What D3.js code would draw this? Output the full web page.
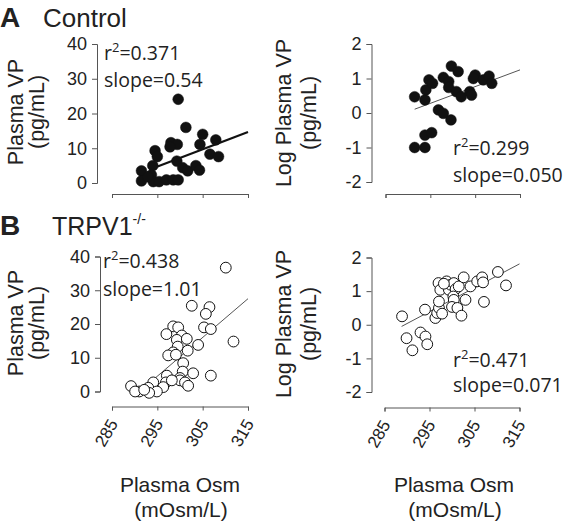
<!DOCTYPE html>
<html><head><meta charset="utf-8">
<script src="https://cdn.jsdelivr.net/npm/d3@7"></script>
<style>body{margin:0;background:#fff}svg{display:block}</style>
</head><body>
<svg id="c" width="567" height="523"></svg>
<script>
// ---------- data ----------
const xTicks = [285, 295, 305, 315];
const yTicksLin = [0, 10, 20, 30, 40];
const yTicksLog = [-2, -1, 0, 1, 2];

const ctrlLinX = [299.6,301.3,305.0,307.9,298.0,299.4,304.4,297.8,294.5,295.0,306.6,308.5,299.3,294.0,291.5,300.6,301.7,303.5,304.3,291.5,293.7,294.1,295.4,297.0,298.5,299.6,292.9];
const ctrlLinY = [24.1,16.0,14.0,12.4,11.6,11.1,11.1,10.4,9.3,7.6,8.3,7.6,6.3,5.0,3.5,4.4,3.5,5.0,3.7,0.6,2.3,0.4,0.4,0.9,0.9,0.9,1.8];
const ctrlLinFit = [[294.9, 4.7], [315, 14.7]];

const ctrlLogX = [291.5,293.8,294.0,294.7,295.5,291.5,293.8,293.8,295.3,296.8,297.9,299.6,297.9,299.7,301.2,299.1,299.1,300.8,301.9,303.8,304.2,305.0,304.6,306.8,308.1,308.7];
const ctrlLogY = [0.47,0.38,0.67,0.96,0.86,-1.0,-1.0,-0.64,-0.57,0.09,-0.01,-0.2,1.03,1.36,1.2,0.91,0.74,0.62,0.47,0.62,0.52,1.1,1.0,0.96,1.07,0.86];
const ctrlLogFit = [[291.5, 0.11], [315, 1.25]];

const koLinX = [310.1,302.6,306.5,305.7,305.3,306.8,298.5,299.6,297.0,300.4,299.3,301.5,299.5,304.0,311.8,298.5,297.4,301.7,300.7,300.6,302.9,306.8,297.1,300.0,300.0,301.1,301.8,296.9,296.3,294.1,293.0,294.9,293.2,291.0,289.2,290.1,292.1,298.2,299.1];
const koLinY = [36.7,25.4,25.0,23.0,19.0,18.5,19.3,19.0,17.0,16.6,15.3,15.6,13.3,13.8,14.8,11.6,10.7,12.1,8.4,5.9,5.4,4.7,4.7,4.0,3.3,2.7,1.7,2.7,1.3,2.7,1.1,0.0,-0.4,0.0,1.6,0.0,0.5,3.3,10.9];
const koLinFit = [[294.1, 3.5], [315, 27.5]];

const koLogX = [288.9,289.9,291.2,293.0,294.1,294.5,294.0,296.3,296.7,297.1,297.1,297.8,297.0,297.4,298.8,299.3,299.7,300.4,300.8,301.5,300.3,300.4,300.0,301.2,302.1,303.0,302.6,304.1,305.6,306.7,306.9,307.1,310.2,312.0,298.2];
const koLogY = [0.25,-0.40,-0.76,-0.23,-0.35,-0.58,0.45,0.20,0.35,0.50,0.69,0.33,1.24,1.04,1.29,1.04,1.19,1.24,1.06,1.14,0.84,0.74,0.53,0.50,0.27,0.74,1.41,1.14,1.29,1.41,1.26,0.68,1.57,1.17,1.22];
const koLogFit = [[288.8, -0.05], [315, 1.81]];

// ---------- drawing ----------
const svg = d3.select("#c");
const ink = "#222";
const axisCol = "#555";
const fmt = d => String(d);

function panel(o) {
  const x = d3.scaleLinear().domain([285, 315]).range([o.x0, o.x1]);
  const y = d3.scaleLinear().domain(o.yDom).range([o.yb, o.yt]);
  const g = svg.append("g");
  // y axis
  const ya = g.append("g").attr("transform", `translate(${o.ax},0)`)
    .call(d3.axisLeft(y).tickValues(o.yTicks).tickSize(5).tickPadding(5).tickFormat(fmt));
  ya.selectAll("path,line").attr("stroke", axisCol);
  ya.selectAll("text").attr("font-family", "Liberation Sans, Arial, sans-serif").attr("font-size", 18).attr("fill", ink);
  // x axis
  const xa = g.append("g").attr("transform", `translate(0,${o.xy})`)
    .call(d3.axisBottom(x).tickValues(xTicks).tickSize(4).tickFormat(o.xLabels ? fmt : ""));
  xa.selectAll("path,line").attr("stroke", axisCol);
  if (o.xLabels) {
    xa.selectAll("text")
      .attr("font-family", "Liberation Sans, Arial, sans-serif").attr("font-size", 17).attr("fill", ink)
      .attr("text-anchor", "end").attr("dy", 0)
      .attr("transform", "translate(6,17) rotate(-60)")
      .attr("x", 0).attr("y", 0);
  }
  // y label
  const lab = g.append("g").attr("font-family", "Liberation Sans, Arial, sans-serif").attr("font-size", 21.5).attr("fill", ink).attr("text-anchor", "middle");
  lab.append("text").attr("transform", `translate(${o.lx1},${o.ly}) rotate(-90)`).text(o.yLabel);
  lab.append("text").attr("transform", `translate(${o.lx2},${o.ly}) rotate(-90)`).text("(pg/mL)");
  // fit line
  g.append("line")
    .attr("x1", x(o.fit[0][0])).attr("y1", y(o.fit[0][1]))
    .attr("x2", x(o.fit[1][0])).attr("y2", y(o.fit[1][1]))
    .attr("stroke", o.thick ? "#111" : "#555").attr("stroke-width", o.thick ? 2.2 : 1);
  // points
  g.selectAll("circle.p").data(o.xs.map((v, i) => [v, o.ys[i]])).join("circle")
    .attr("cx", d => x(d[0])).attr("cy", d => y(d[1])).attr("r", 5.4)
    .attr("fill", o.filled ? "#111" : "#fff")
    .attr("stroke", "#111").attr("stroke-width", o.filled ? 0.5 : 1);
  // annotations
  const ann = g.append("g").attr("font-family", "Open Sans, sans-serif").attr("font-size", 19.5).attr("fill", ink);
  const t1 = ann.append("text").attr("x", o.tx).attr("y", o.ty1);
  t1.append("tspan").text("r");
  t1.append("tspan").attr("font-size", 13).attr("dy", -8).text("2");
  t1.append("tspan").attr("dy", 8).text("=" + o.r2);
  ann.append("text").attr("x", o.tx).attr("y", o.ty2).text("slope=" + o.slope);
}

panel({x0: 112, x1: 248, yDom: [0, 40], yb: 183, yt: 44, ax: 97, xy: 194, yTicks: yTicksLin, xLabels: false,
  yLabel: "Plasma VP", lx1: 23, lx2: 44, ly: 112, fit: ctrlLinFit, thick: true, xs: ctrlLinX, ys: ctrlLinY, filled: true,
  tx: 104, ty1: 60, ty2: 87, r2: "0.371", slope: "0.54"});
panel({x0: 385.5, x1: 520, yDom: [-2, 2], yb: 182, yt: 44, ax: 371.5, xy: 194, yTicks: yTicksLog, xLabels: false,
  yLabel: "Log Plasma VP", lx1: 291, lx2: 316, ly: 113, fit: ctrlLogFit, thick: false, xs: ctrlLogX, ys: ctrlLogY, filled: true,
  tx: 453, ty1: 155, ty2: 182, r2: "0.299", slope: "0.050"});
panel({x0: 112, x1: 248, yDom: [0, 40], yb: 391.5, yt: 256.5, ax: 100, xy: 406.5, yTicks: yTicksLin, xLabels: true,
  yLabel: "Plasma VP", lx1: 23, lx2: 44, ly: 323, fit: koLinFit, thick: false, xs: koLinX, ys: koLinY, filled: false,
  tx: 103, ty1: 268, ty2: 296, r2: "0.438", slope: "1.01"});
panel({x0: 384.5, x1: 519.5, yDom: [-2, 2], yb: 392, yt: 257.5, ax: 371.5, xy: 407.5, yTicks: yTicksLog, xLabels: true,
  yLabel: "Log Plasma VP", lx1: 291, lx2: 316, ly: 324, fit: koLogFit, thick: false, xs: koLogX, ys: koLogY, filled: false,
  tx: 453, ty1: 367, ty2: 392, r2: "0.471", slope: "0.071"});

// x titles
const xt = svg.append("g").attr("font-family", "Liberation Sans, Arial, sans-serif").attr("font-size", 21).attr("fill", ink).attr("text-anchor", "middle");
[[180, "Plasma Osm", 492], [181, "(mOsm/L)", 517], [454, "Plasma Osm", 492], [455, "(mOsm/L)", 517]].forEach(([x, t, y]) => {
  xt.append("text").attr("x", x).attr("y", y).text(t);
});

// panel headings
const hd = svg.append("g").attr("font-family", "Liberation Sans, Arial, sans-serif").attr("fill", ink);
hd.append("text").attr("x", 0).attr("y", 27).attr("font-size", 28).attr("font-weight", "bold").text("A");
hd.append("text").attr("x", 43).attr("y", 27).attr("font-size", 26).text("Control");
hd.append("text").attr("x", 0).attr("y", 235).attr("font-size", 28).attr("font-weight", "bold").text("B");
const tr = hd.append("text").attr("x", 52).attr("y", 235).attr("font-size", 25);
tr.append("tspan").text("TRPV1");
tr.append("tspan").attr("font-size", 14).attr("dy", -11).text("-/-");
</script>
</body></html>
